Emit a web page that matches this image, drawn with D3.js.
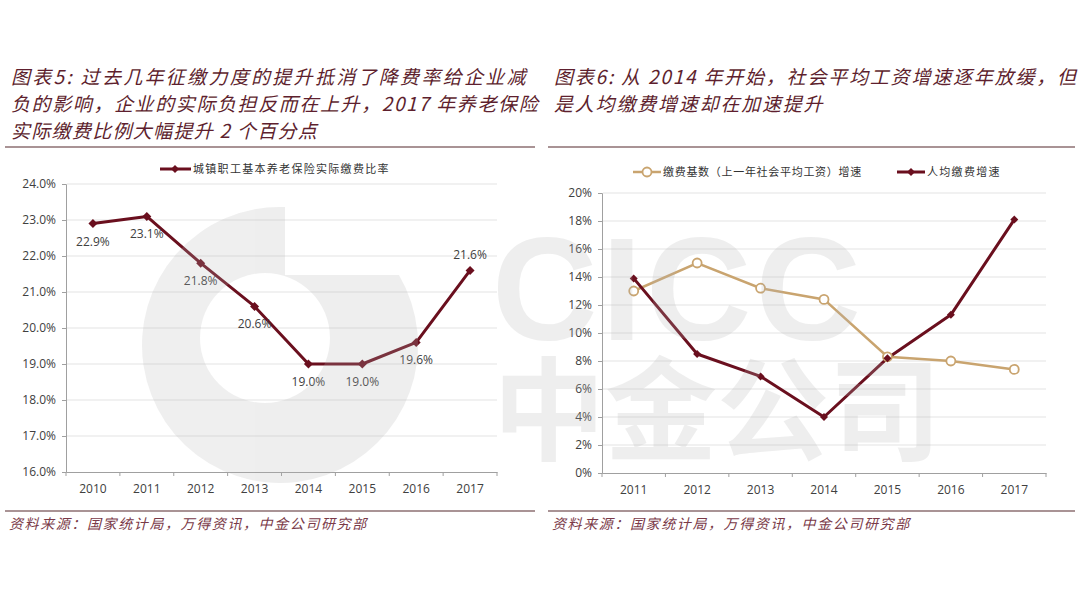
<!DOCTYPE html>
<html>
<head>
<meta charset="utf-8">
<script src="https://cdn.jsdelivr.net/npm/d3@7"></script>
<style>
  body { margin: 0; background: #fff; }
  svg { display: block; font-family: "Noto Sans CJK SC", "Noto Sans", sans-serif; }
</style>
</head>
<body>
<div id="chart"></div>
<script>
// ---- data ----
var yearsLeft = ["2010", "2011", "2012", "2013", "2014", "2015", "2016", "2017"]
var contribRate = [22.9, 23.1, 21.8, 20.6, 19.0, 19.0, 19.6, 21.6]
var leftTicks = [16, 17, 18, 19, 20, 21, 22, 23, 24]

var yearsRight = ["2011", "2012", "2013", "2014", "2015", "2016", "2017"]
var baseGrowth = [13.0, 15.0, 13.2, 12.4, 8.3, 8.0, 7.4]
var perCapitaGrowth = [13.9, 8.5, 6.9, 4.0, 8.2, 11.3, 18.1]
var rightTicks = [0, 2, 4, 6, 8, 10, 12, 14, 16, 18, 20]

var titleLeft = ["图表5: 过去几年征缴力度的提升抵消了降费率给企业减",
                 "负的影响，企业的实际负担反而在上升，2017 年养老保险",
                 "实际缴费比例大幅提升 2 个百分点"]
var titleRight = ["图表6: 从 2014 年开始，社会平均工资增速逐年放缓，但",
                  "是人均缴费增速却在加速提升"]
var sourceText = "资料来源：国家统计局，万得资讯，中金公司研究部"

var W = 1080, H = 607
var dark = "#6a0f1e", tan = "#c9a46f", titleCol = "#5e1f2e"

var svg = d3.select("#chart").append("svg").attr("width", W).attr("height", H)

// ---- titles, rules, sources ----
function header(x0, x1, lines, ls) {
    svg.append("g").selectAll("text").data(lines).enter().append("text")
        .attr("x", x0 + 6)
        .attr("y", function (d, i) { return 84 + i * 27 })
        .attr("font-size", 19)
        .attr("font-style", "italic")
        .attr("letter-spacing", function (d, i) { return ls[i] })
        .attr("fill", titleCol)
        .text(function (d) { return d })
    svg.append("line").attr("x1", x0).attr("x2", x1).attr("y1", 147).attr("y2", 147)
        .attr("stroke", "#8c6f72").attr("stroke-width", 1.5)
    svg.append("line").attr("x1", x0).attr("x2", x1).attr("y1", 511).attr("y2", 511)
        .attr("stroke", "#8c6f72").attr("stroke-width", 1.5)
    svg.append("text").attr("x", x0 + 4).attr("y", 529)
        .attr("font-size", 14).attr("font-style", "italic").attr("letter-spacing", 1.6)
        .attr("fill", "#7a3a48").text(sourceText)
}
header(5, 535, titleLeft, [2.3, 1.6, 1.3])
header(548, 1075, titleRight, [1.8, 1.8])

// ---- generic axis drawing ----
function frame(g, x, y, ticks, fmt, x0, x1) {
    var yAxis = d3.axisLeft(y).tickValues(ticks).tickFormat(fmt).tickSize(4).tickPadding(6)
    var ga = g.append("g").attr("transform", "translate(" + x0 + ",0)").call(yAxis)
    ga.select(".domain").attr("stroke", "#a0a0a0")
    ga.selectAll(".tick line").attr("stroke", "#a0a0a0")
    ga.selectAll("text").attr("font-size", 12).attr("fill", "#404040").attr("font-family", "Open Sans, Noto Sans, sans-serif")

    g.append("g").selectAll("line").data(ticks.slice(1)).enter().append("line")
        .attr("x1", x0 + 1).attr("x2", x1)
        .attr("y1", function (d) { return y(d) }).attr("y2", function (d) { return y(d) })
        .attr("stroke", "#e3e3e3").attr("stroke-width", 1)

    var xAxis = d3.axisBottom(x).tickSize(0).tickPadding(12)
    var gx = g.append("g").attr("transform", "translate(0," + y(ticks[0]) + ")").call(xAxis)
    gx.select(".domain").attr("stroke", "#a0a0a0")
    gx.selectAll("text").attr("font-size", 12).attr("fill", "#404040").attr("font-family", "Open Sans, Noto Sans, sans-serif")
    // ticks at band boundaries
    var bounds = x.domain().map(function (d) { return x(d) }).concat([x.range()[1]])
    gx.selectAll(".bnd").data(bounds).enter().append("line").classed("bnd", true)
        .attr("x1", function (d) { return d }).attr("x2", function (d) { return d })
        .attr("y1", 0).attr("y2", 4).attr("stroke", "#a0a0a0")
}

function diamonds(g, data, xf, yf, s, col) {
    g.selectAll(".dm").data(data).enter().append("path")
        .attr("d", function (d, i) {
            var cx = xf(i), cy = yf(d)
            return "M" + cx + "," + (cy - s) + "L" + (cx + s) + "," + cy + "L" + cx + "," + (cy + s) + "L" + (cx - s) + "," + cy + "Z"
        })
        .attr("fill", col)
}

// ---- left chart ----
var xL = d3.scaleBand().domain(yearsLeft).range([66, 497])
var yL = d3.scaleLinear().domain([16, 24]).range([472, 184])
var gL = svg.append("g")
frame(gL, xL, yL, leftTicks, function (d) { return d.toFixed(1) + "%" }, 66, 497)

var cxL = function (i) { return xL(yearsLeft[i]) + xL.bandwidth() / 2 }
gL.append("path").datum(contribRate)
    .attr("d", d3.line().x(function (d, i) { return cxL(i) }).y(function (d) { return yL(d) }))
    .attr("fill", "none").attr("stroke", dark).attr("stroke-width", 3).attr("stroke-linejoin", "round")
diamonds(gL, contribRate, cxL, yL, 4.5, dark)

gL.selectAll(".lbl").data(contribRate).enter().append("text")
    .attr("x", function (d, i) { return cxL(i) })
    .attr("y", function (d, i) { return i == contribRate.length - 1 ? yL(d) - 11 : yL(d) + 22 })
    .attr("text-anchor", "middle").attr("font-size", 12).attr("fill", "#404040")
    .attr("font-family", "Open Sans, Noto Sans, sans-serif")
    .text(function (d) { return d.toFixed(1) + "%" })

// left legend
var lgL = svg.append("g").attr("transform", "translate(160,169)")
lgL.append("line").attr("x1", 0).attr("x2", 31).attr("stroke", dark).attr("stroke-width", 3)
lgL.append("path").attr("d", "M15,-4L19,0L15,4L11,0Z").attr("fill", dark)
lgL.append("text").attr("x", 33).attr("y", 4).attr("font-size", 11).attr("letter-spacing", 1.3)
    .attr("fill", "#333").text("城镇职工基本养老保险实际缴费比率")

// ---- right chart ----
var xR = d3.scaleBand().domain(yearsRight).range([602, 1046])
var yR = d3.scaleLinear().domain([0, 20]).range([473, 193])
var gR = svg.append("g")
frame(gR, xR, yR, rightTicks, function (d) { return d + "%" }, 602, 1046)

var cxR = function (i) { return xR(yearsRight[i]) + xR.bandwidth() / 2 }
var lineR = d3.line().x(function (d, i) { return cxR(i) }).y(function (d) { return yR(d) })

gR.append("path").datum(baseGrowth).attr("d", lineR)
    .attr("fill", "none").attr("stroke", tan).attr("stroke-width", 2.5)
gR.append("path").datum(perCapitaGrowth).attr("d", lineR)
    .attr("fill", "none").attr("stroke", dark).attr("stroke-width", 3).attr("stroke-linejoin", "round")
gR.selectAll(".ci").data(baseGrowth).enter().append("circle")
    .attr("cx", function (d, i) { return cxR(i) }).attr("cy", function (d) { return yR(d) })
    .attr("r", 4.5).attr("fill", "#fff").attr("stroke", tan).attr("stroke-width", 1.8)
diamonds(gR, perCapitaGrowth, cxR, yR, 4, dark)

// right legend
var lgR = svg.append("g").attr("transform", "translate(633,172)")
lgR.append("line").attr("x1", 0).attr("x2", 28).attr("stroke", tan).attr("stroke-width", 2.5)
lgR.append("circle").attr("cx", 14).attr("r", 4.5).attr("fill", "#fff").attr("stroke", tan).attr("stroke-width", 1.8)
lgR.append("text").attr("x", 30).attr("y", 4).attr("font-size", 11).attr("letter-spacing", 0.7)
    .attr("fill", "#333").text("缴费基数（上一年社会平均工资）增速")
lgR.append("line").attr("x1", 264).attr("x2", 292).attr("stroke", dark).attr("stroke-width", 3)
lgR.append("path").attr("d", "M278,-4L282,0L278,4L274,0Z").attr("fill", dark)
lgR.append("text").attr("x", 294).attr("y", 4).attr("font-size", 11).attr("letter-spacing", 1.3)
    .attr("fill", "#333").text("人均缴费增速")

// ---- watermark (overlay, as in the original) ----
var wm = svg.append("g").attr("opacity", 0.22).attr("fill", "#b4b4b4").style("pointer-events", "none")
var cx = 280, cy = 345, R = 138
var topY = cy - Math.sqrt(R * R - 25), rx = cx + Math.sqrt(R * R - 70 * 70)
wm.append("path").attr("fill-rule", "evenodd")
    .attr("d", "M285," + topY + "A" + R + "," + R + " 0 1,0 " + rx + ",275L285,275Z" +
        "M200,338A65,65 0 1,0 330,338A65,65 0 1,0 200,338Z")
wm.append("text").attr("x", 492).attr("y", 340).attr("font-size", 146).attr("font-weight", 700)
    .attr("font-family", "Liberation Sans, Arial, sans-serif").attr("letter-spacing", 4).text("CICC")
wm.append("text").attr("x", 493).attr("y", 452).attr("font-size", 112).attr("font-weight", 700)
    .text("中金公司")
</script>
</body>
</html>
